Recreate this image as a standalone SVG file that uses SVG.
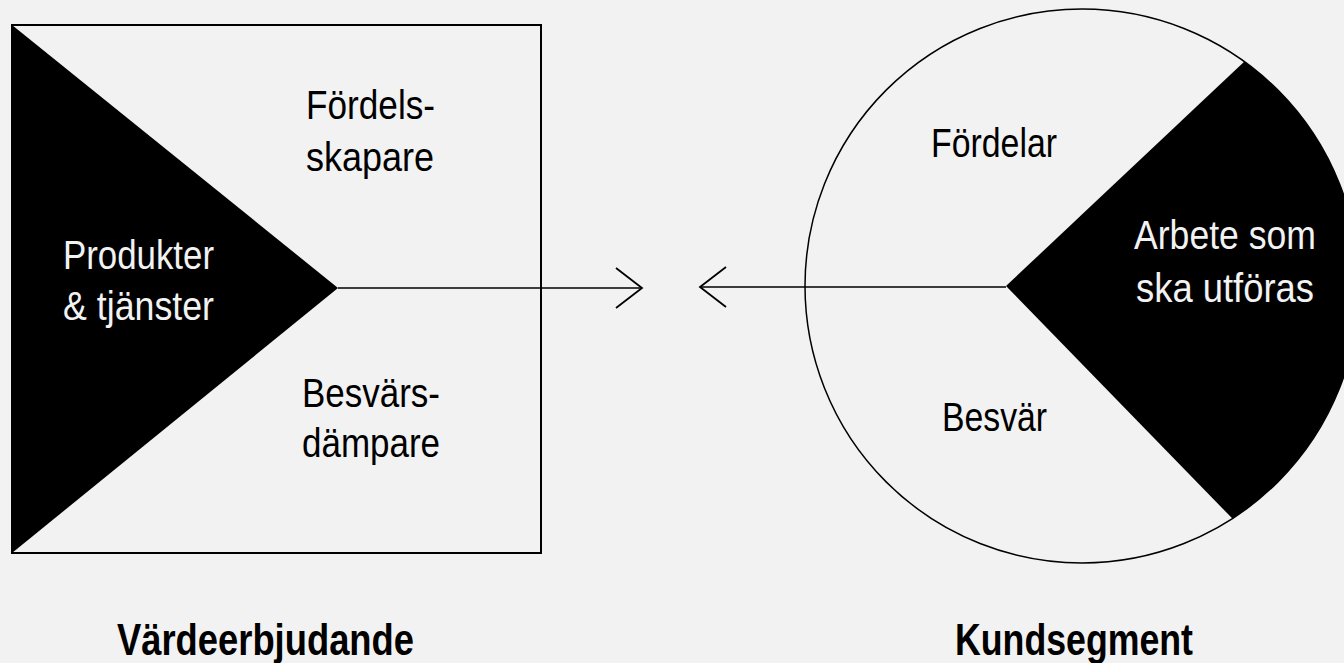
<svg xmlns="http://www.w3.org/2000/svg" width="1344" height="663" viewBox="0 0 1344 663">
  <style>
    .lbl { font-family: "Liberation Sans Narrow", "Liberation Sans", Arial, sans-serif; font-size: 40px; }
    .dark { fill: #000000; }
    .light { fill: #f2f2f2; }
    .title { font-family: "Liberation Sans Narrow", "Liberation Sans", Arial, sans-serif; font-size: 44px; font-weight: bold; fill: #000000; }
    .edge { fill: none; stroke: #000000; stroke-width: 1.5; }
  </style>
  <defs>
    <marker id="chev" viewBox="0 0 30 44" refX="28" refY="22" markerWidth="30" markerHeight="44" markerUnits="userSpaceOnUse" orient="auto">
      <path d="M2,2 L28,22 L2,42" fill="none" stroke="#000000" stroke-width="1.8"/>
    </marker>
  </defs>
  <rect x="0" y="0" width="1344" height="663" fill="#f2f2f2"/>

  <g id="value-proposition">
    <rect x="12" y="25" width="529" height="528" fill="#f2f2f2" stroke="#000000" stroke-width="2"/>
    <polygon points="12,25 12,553 338,288" fill="#000000"/>
    <text class="lbl light" x="63" y="269" textLength="151" lengthAdjust="spacingAndGlyphs">Produkter</text>
    <text class="lbl light" x="63" y="320" textLength="151" lengthAdjust="spacingAndGlyphs">&amp; tjänster</text>
    <text class="lbl dark" x="306" y="119" textLength="129" lengthAdjust="spacingAndGlyphs">Fördels-</text>
    <text class="lbl dark" x="306" y="171" textLength="128" lengthAdjust="spacingAndGlyphs">skapare</text>
    <text class="lbl dark" x="302" y="407" textLength="138" lengthAdjust="spacingAndGlyphs">Besvärs-</text>
    <text class="lbl dark" x="302" y="457" textLength="138" lengthAdjust="spacingAndGlyphs">dämpare</text>
  </g>

  <g id="customer-segment">
    <path d="M1006,286 L1244.4,61.6 A277,277 0 0 1 1232.4,518.6 Z" fill="#000000"/>
    <circle cx="1082" cy="286" r="277" fill="none" stroke="#000000" stroke-width="1.5"/>
    <text class="lbl dark" x="931" y="157" textLength="126" lengthAdjust="spacingAndGlyphs">Fördelar</text>
    <text class="lbl dark" x="942" y="431" textLength="105" lengthAdjust="spacingAndGlyphs">Besvär</text>
    <text class="lbl light" x="1134" y="249" textLength="182" lengthAdjust="spacingAndGlyphs">Arbete som</text>
    <text class="lbl light" x="1136" y="302" textLength="178" lengthAdjust="spacingAndGlyphs">ska utföras</text>
  </g>

  <g id="connectors">
    <line class="edge" x1="338" y1="288" x2="642" y2="288" marker-end="url(#chev)"/>
    <line class="edge" x1="1006" y1="287" x2="700" y2="287" marker-end="url(#chev)"/>
  </g>

  <g id="titles">
    <text class="title" x="117" y="655" textLength="297" lengthAdjust="spacingAndGlyphs">Värdeerbjudande</text>
    <text class="title" x="955" y="655" textLength="238" lengthAdjust="spacingAndGlyphs">Kundsegment</text>
  </g>
</svg>
